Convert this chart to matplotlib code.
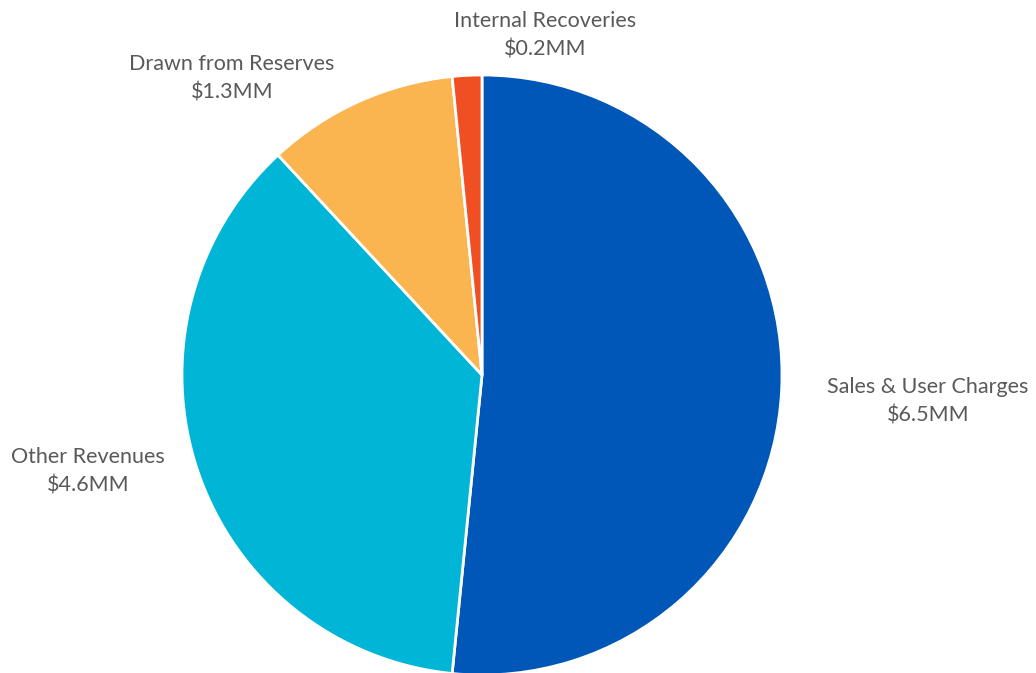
import matplotlib.pyplot as plt

# revenue sources, in millions
categories = ["Sales & User Charges", "Other Revenues", "Drawn from Reserves", "Internal Recoveries"]
values = [6.5, 4.6, 1.3, 0.2]
colors = ["#0057B8", "#00B5D6", "#FBB550", "#F04E23"]

# label centres in pie-radius units
label_xy = [(1.487, -0.087), (-1.313, -0.32), (-0.833, 0.99), (0.21, 1.133)]

plt.rcParams['font.family'] = ['Lato', 'DejaVu Sans']

fig = plt.figure(figsize=(10.36, 6.73), dpi=100)
# pie centre at (482, 375) px, radius 300 px
cx, cy, r = 482, 673 - 375, 300
ax = fig.add_axes([(cx - r) / 1036, (cy - r) / 673, 2 * r / 1036, 2 * r / 673])

wedges, _ = ax.pie(values, colors=colors, startangle=90, counterclock=False,
                   radius=1.0, wedgeprops=dict(edgecolor="white", linewidth=2.0))
ax.set_xlim(-1, 1)
ax.set_ylim(-1, 1)
ax.set_aspect("equal")
ax.axis("off")

for name, v, (x, y) in zip(categories, values, label_xy):
    ax.text(x, y, f"{name}\n${v:.1f}MM", ha="center", va="center",
            fontsize=15.5, color="#595959", linespacing=1.55, clip_on=False)

fig.savefig("out.png", dpi=100)
